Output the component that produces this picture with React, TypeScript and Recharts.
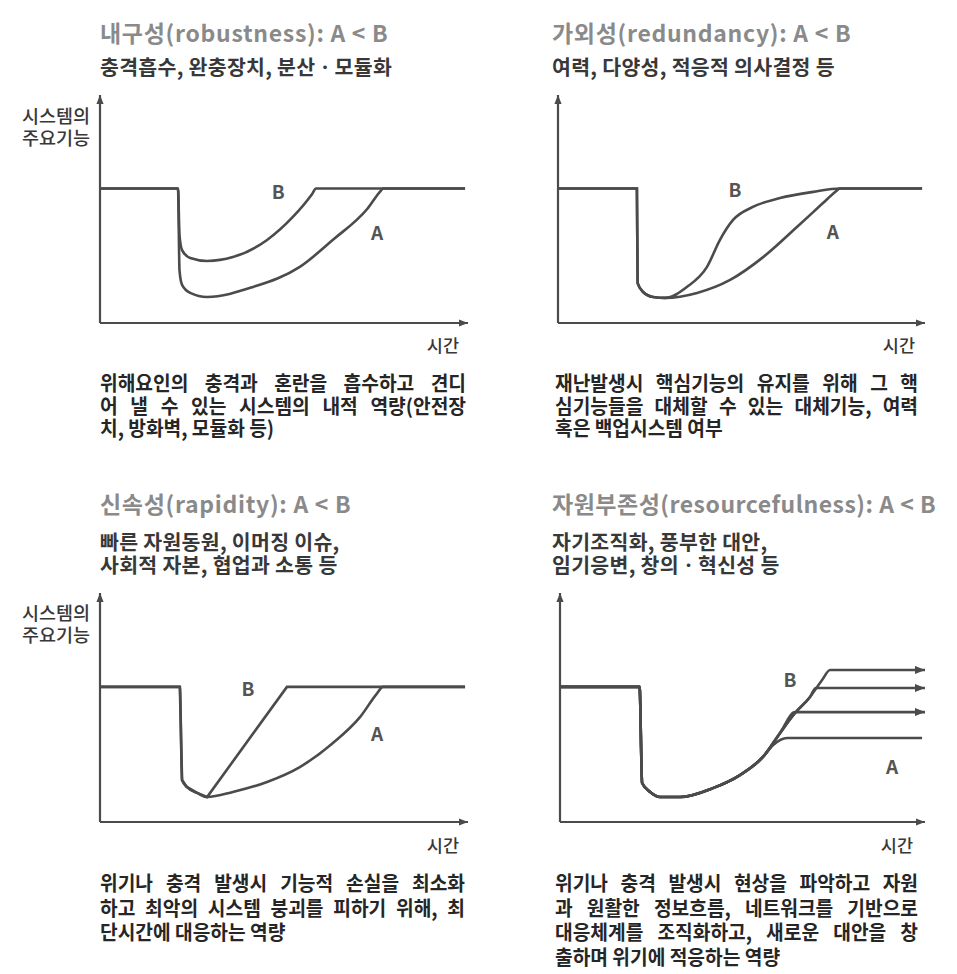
import React from "react";
import { LineChart, Line, XAxis, YAxis, ReferenceDot } from "recharts";

type Pair = [number, number];

const INK = "#4b4b4b";
const FONT = "'Noto Sans CJK KR', 'Noto Sans', sans-serif";

// time (0-100) vs. level of the system's main function (0-100)
const robustB: Pair[] = [
  [0, 59], [21.2, 59], [21.6, 38.6], [22.3, 32], [24.5, 28.5], [29.1, 27.2],
  [36.1, 28.9], [45.4, 36.4], [52.4, 46.5], [57.6, 56.5], [58.7, 59], [99.2, 59],
];
const robustA: Pair[] = [
  [0, 59], [21.2, 59], [21.6, 23.2], [22.3, 16.7], [24.5, 13.2], [29.1, 11.4],
  [41.6, 15.8], [54.3, 24.6], [63.3, 36.5], [72.6, 50], [76.4, 58.2], [76.9, 59], [99.2, 59],
];

const redundB: Pair[] = [
  [0, 59], [21.5, 59], [21.7, 17.5], [23.2, 13.6], [25.9, 11.4], [29.2, 11],
  [35.1, 15.8], [40.6, 24.6], [44.1, 36.4], [47.7, 45.2], [53.1, 50.9],
  [60.5, 54.8], [69.5, 57.5], [76.8, 59], [99.2, 59],
];
const redundA: Pair[] = [
  [0, 59], [21.5, 59], [21.7, 17.5], [23.2, 13.6], [25.9, 11.4], [29.2, 11],
  [37.9, 13.2], [46.9, 18.9], [55.9, 28.9], [65.1, 42.1], [72.2, 52.6],
  [75.6, 57.6], [76.8, 59], [99.2, 59],
];

const rapidB: Pair[] = [
  [0, 59], [21.7, 59], [22.3, 18.3], [23.6, 15.3], [26.4, 12.7], [29.1, 10.9],
  [50.8, 59], [99.2, 59],
];
const rapidA: Pair[] = [
  [0, 59], [21.7, 59], [22.3, 18.3], [23.6, 15.3], [26.4, 12.7], [29.1, 10.9],
  [36.1, 13.1], [45.4, 17.5], [54.3, 24], [63.3, 34.5], [70.7, 45.9],
  [75.3, 56.2], [76.9, 59], [99.2, 59],
];

const resourceBase: Pair[] = [
  [0, 59], [21.8, 59], [22.5, 17], [24.7, 13.1], [27.4, 10.9], [32.9, 10.9],
  [41.9, 14.8], [49.3, 20.5], [55.6, 28.4],
];
const resourceA: Pair[] = [...resourceBase, [58.4, 33.6], [62.2, 36.7], [99.2, 36.7]];
const resourceMid: Pair[] = [...resourceBase, [60.3, 38.9], [64.4, 48], [100, 48]];
const resourceHigh: Pair[] = [
  ...resourceBase, [60.3, 38.9], [64.4, 47.6], [68.5, 54.6], [70.1, 58.5], [100, 58.5],
];
const resourceB: Pair[] = [
  ...resourceBase, [60.3, 38.9], [64.4, 47.6], [68.5, 54.6], [71.8, 62], [74, 66.4], [100, 66.4],
];

const robustLabels = [{ text: "B", t: 48.4, v: 57.5 }, { text: "A", t: 75.3, v: 39.5 }];
const redundLabels = [{ text: "B", t: 48.2, v: 58.3 }, { text: "A", t: 74.9, v: 39.9 }];
const rapidLabels = [{ text: "B", t: 40.2, v: 58.1 }, { text: "A", t: 75.3, v: 38.4 }];
const resourceLabels = [{ text: "B", t: 63, v: 62 }, { text: "A", t: 91, v: 24 }];

const titles = [
  "내구성(robustness): A < B",
  "가외성(redundancy): A < B",
  "신속성(rapidity): A < B",
  "자원부존성(resourcefulness): A < B",
];
const subtitles = [
  ["충격흡수, 완충장치, 분산ㆍ모듈화"],
  ["여력, 다양성, 적응적 의사결정 등"],
  ["빠른 자원동원, 이머징 이슈,", "사회적 자본, 협업과 소통 등"],
  ["자기조직화, 풍부한 대안,", "임기응변, 창의ㆍ혁신성 등"],
];
const descriptions = [
  ["위해요인의 충격과 혼란을 흡수하고 견디", "어 낼 수 있는 시스템의 내적 역량(안전장", "치, 방화벽, 모듈화 등)"],
  ["재난발생시 핵심기능의 유지를 위해 그 핵", "심기능들을 대체할 수 있는 대체기능, 여력", "혹은 백업시스템 여부"],
  ["위기나 충격 발생시 기능적 손실을 최소화", "하고 최악의 시스템 붕괴를 피하기 위해, 최", "단시간에 대응하는 역량"],
  ["위기나 충격 발생시 현상을 파악하고 자원", "과 원활한 정보흐름, 네트워크를 기반으로", "대응체계를 조직화하고, 새로운 대안을 창", "출하며 위기에 적응하는 역량"],
];
const yLabel = ["시스템의", "주요기능"];
const xLabel = "시간";

type Series = { key: string; points: Pair[]; curve?: "monotone" | "linear"; arrow?: boolean };
type Mark = { text: string; t: number; v: number };

const toPts = (pairs: Pair[]) => pairs.map(([t, v]) => ({ t, v }));

function Panel(props: {
  left: number;
  top: number;
  width: number;
  height: number;
  margin: { top: number; right: number; bottom: number; left: number };
  series: Series[];
  labels: Mark[];
}) {
  const { left, top, width, height, margin, series, labels } = props;
  return (
    <div style={{ position: "absolute", left, top }}>
      <LineChart width={width} height={height} margin={margin}>
        <XAxis
          dataKey="t"
          type="number"
          domain={[0, 100]}
          height={1}
          tick={false}
          tickLine={false}
          axisLine={{ stroke: INK, strokeWidth: 2.2, markerEnd: "url(#axisArrow)" }}
        />
        <YAxis
          type="number"
          domain={[0, 100]}
          width={1}
          tick={false}
          tickLine={false}
          axisLine={{ stroke: INK, strokeWidth: 2.2, markerStart: "url(#axisArrow)" }}
        />
        {series.map((s) => (
          <Line
            key={s.key}
            data={toPts(s.points)}
            dataKey="v"
            type={s.curve ?? "monotone"}
            stroke={INK}
            strokeWidth={2.6}
            dot={false}
            activeDot={false}
            isAnimationActive={false}
            markerEnd={s.arrow ? "url(#lineArrow)" : undefined}
          />
        ))}
        {labels.map((l) => (
          <ReferenceDot
            key={l.text}
            x={l.t}
            y={l.v}
            r={1}
            fill="none"
            stroke="none"
            label={{ value: l.text, position: "center", fill: "#555", fontSize: 19, fontWeight: 700, fontFamily: FONT }}
          />
        ))}
      </LineChart>
    </div>
  );
}

function Lines(props: {
  lines: string[];
  left: number;
  top: number;
  lineHeight: number;
  fontSize: number;
  color: string;
  weight?: number;
  width?: number;
  squeeze?: number;
  spacing?: number;
  align?: "left" | "right";
}) {
  const { lines, left, top, lineHeight, fontSize, color, weight = 700, width, squeeze = 1, spacing = 0, align = "left" } = props;
  const boxW = width ? width / squeeze : undefined;
  return (
    <div
      style={{
        position: "absolute",
        left,
        top,
        width: boxW,
        fontFamily: FONT,
        fontSize,
        fontWeight: weight,
        color,
        letterSpacing: spacing,
        lineHeight: `${lineHeight}px`,
        transform: squeeze !== 1 ? `scaleX(${squeeze})` : undefined,
        transformOrigin: "left top",
        textAlign: align,
      }}
    >
      {lines.map((ln, i) => (
        <div
          key={i}
          style={
            width && align === "left" && i < lines.length - 1
              ? { textAlign: "justify", textAlignLast: "justify", whiteSpace: "nowrap" }
              : { whiteSpace: "nowrap" }
          }
        >
          {ln}
        </div>
      ))}
    </div>
  );
}

export default function App() {
  return (
    <div style={{ position: "absolute", left: 0, top: 0, width: 957, height: 974, background: "#fff", overflow: "hidden" }}>
      <svg width={0} height={0} style={{ position: "absolute" }}>
        <defs>
          <marker id="axisArrow" viewBox="0 0 10 8" refX={10} refY={4} markerWidth={9} markerHeight={7.5} markerUnits="userSpaceOnUse" orient="auto-start-reverse">
            <path d="M0,0 L10,4 L0,8 z" fill={INK} />
          </marker>
          <marker id="lineArrow" viewBox="0 0 10 8" refX={10} refY={4} markerWidth={10} markerHeight={8} markerUnits="userSpaceOnUse" orient="auto">
            <path d="M0,0 L10,4 L0,8 z" fill={INK} />
          </marker>
        </defs>
      </svg>

      <Panel
        left={0}
        top={0}
        width={480}
        height={340}
        margin={{ top: 95, right: 12, bottom: 16, left: 99 }}
        series={[{ key: "A", points: robustA }, { key: "B", points: robustB }]}
        labels={robustLabels}
      />
      <Panel
        left={480}
        top={0}
        width={477}
        height={340}
        margin={{ top: 95, right: 32, bottom: 16, left: 77 }}
        series={[{ key: "A", points: redundA }, { key: "B", points: redundB }]}
        labels={redundLabels}
      />
      <Panel
        left={0}
        top={480}
        width={480}
        height={360}
        margin={{ top: 113, right: 12, bottom: 17, left: 99 }}
        series={[{ key: "A", points: rapidA }, { key: "B", points: rapidB, curve: "linear" }]}
        labels={rapidLabels}
      />
      <Panel
        left={480}
        top={480}
        width={477}
        height={360}
        margin={{ top: 113, right: 32, bottom: 17, left: 79 }}
        series={[
          { key: "A", points: resourceA },
          { key: "mid", points: resourceMid, arrow: true },
          { key: "high", points: resourceHigh, arrow: true },
          { key: "B", points: resourceB, arrow: true },
        ]}
        labels={resourceLabels}
      />

      {/* titles */}
      <Lines lines={[titles[0]]} left={100} top={18} lineHeight={28} fontSize={23} spacing={0.7} color="#8a8a8a" />
      <Lines lines={[titles[1]]} left={552} top={18} lineHeight={28} fontSize={23} spacing={0.7} color="#8a8a8a" />
      <Lines lines={[titles[2]]} left={100} top={489} lineHeight={28} fontSize={23} spacing={0.7} color="#8a8a8a" />
      <Lines lines={[titles[3]]} left={552} top={489} lineHeight={28} fontSize={23} spacing={0.5} color="#8a8a8a" />

      {/* keywords */}
      <Lines lines={subtitles[0]} left={100} top={55} lineHeight={23} fontSize={20.5} spacing={0.3} color="#383838" />
      <Lines lines={subtitles[1]} left={552} top={55} lineHeight={23} fontSize={20.5} spacing={0.3} color="#383838" />
      <Lines lines={subtitles[2]} left={100} top={530} lineHeight={23} fontSize={20.5} spacing={0.3} color="#383838" />
      <Lines lines={subtitles[3]} left={552} top={530} lineHeight={23} fontSize={20.5} spacing={0.3} color="#383838" />

      {/* axis names */}
      <Lines lines={yLabel} left={22} top={104} lineHeight={22} fontSize={18.5} color="#383838" weight={500} />
      <Lines lines={yLabel} left={22} top={601} lineHeight={22} fontSize={18.5} color="#383838" weight={500} />
      <Lines lines={[xLabel]} left={400} top={334} width={59} lineHeight={22} fontSize={17.5} color="#383838" weight={500} align="right" />
      <Lines lines={[xLabel]} left={856} top={334} width={59} lineHeight={22} fontSize={17.5} color="#383838" weight={500} align="right" />
      <Lines lines={[xLabel]} left={400} top={834} width={59} lineHeight={22} fontSize={17.5} color="#383838" weight={500} align="right" />
      <Lines lines={[xLabel]} left={854} top={834} width={59} lineHeight={22} fontSize={17.5} color="#383838" weight={500} align="right" />

      {/* descriptions */}
      <Lines lines={descriptions[0]} left={100} top={372} width={366} squeeze={0.96} lineHeight={22.5} fontSize={20} color="#262626" weight={600} />
      <Lines lines={descriptions[1]} left={555} top={372} width={363} squeeze={0.96} lineHeight={22.5} fontSize={20} color="#262626" weight={600} />
      <Lines lines={descriptions[2]} left={100} top={871} width={365} squeeze={0.96} lineHeight={24.5} fontSize={20} color="#262626" weight={600} />
      <Lines lines={descriptions[3]} left={555} top={871} width={363} squeeze={0.96} lineHeight={24.5} fontSize={20} color="#262626" weight={600} />
    </div>
  );
}
